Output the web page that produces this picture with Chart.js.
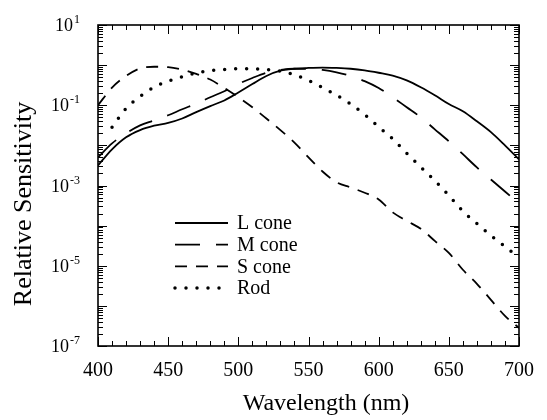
<!DOCTYPE html>
<html>
<head>
<meta charset="utf-8">
<script src="https://cdn.jsdelivr.net/npm/chart.js@4.4.1/dist/chart.umd.min.js"></script>
<style>
  body { margin: 0; background: #fff; }
  #wrap { width: 547px; height: 420px; }
</style>
</head>
<body>
<div id="wrap"><canvas id="chart" width="547" height="420"></canvas></div>
<script>
// wavelength (nm) and log10 of relative sensitivity
let wavelengths = [400, 410, 420, 430, 440, 450, 460, 470, 480, 490,
                   500, 510, 520, 530, 540, 550, 560, 570, 580, 590,
                   600, 610, 620, 630, 640, 650, 660, 670, 680, 690, 700]

let lConeLog = [-2.5, -2.1, -1.8, -1.62, -1.51, -1.44, -1.33, -1.17, -1.02, -0.88,
                -0.68, -0.47, -0.27, -0.14, -0.09, -0.07, -0.06, -0.07, -0.09, -0.13,
                -0.19, -0.26, -0.38, -0.55, -0.75, -0.97, -1.15, -1.4, -1.67, -2.0, -2.35]

let mConeLog = [-2.3, -1.95, -1.7, -1.5, -1.38, -1.25, -1.1, -0.96, -0.8, -0.65,
                -0.47, -0.32, -0.19, -0.12, -0.09, -0.09, -0.12, -0.18, -0.27, -0.4,
                -0.57, -0.8, -1.05, -1.3, -1.6, -1.9, -2.22, -2.55, -2.85, -3.15, -3.45]

let sConeLog = [-1.0, -0.56, -0.27, -0.08, -0.04, -0.05, -0.11, -0.22, -0.36, -0.57,
                -0.8, -1.05, -1.33, -1.62, -1.93, -2.3, -2.65, -2.92, -3.05, -3.18,
                -3.35, -3.67, -3.88, -4.08, -4.38, -4.68, -5.1, -5.45, -5.85, -6.25, -6.55]

let rodLog = [null, -1.55, -1.08, -0.78, -0.55, -0.4, -0.29, -0.2, -0.14, -0.11,
              -0.09, -0.09, -0.11, -0.15, -0.24, -0.38, -0.56, -0.75, -0.97, -1.23,
              -1.54, -1.84, -2.2, -2.54, -2.88, -3.25, -3.64, -3.95, -4.25, -4.52, -4.8]

let seriesLabels = ["L cone", "M cone", "S cone", "Rod"]
let yTickExps = [1, -1, -3, -5, -7]

let serif = "'Liberation Serif', 'Times New Roman', serif"

function toPoints(logs) {
    return wavelengths.map((w, i) => ({ x: w, y: logs[i] === null ? null : Math.pow(10, logs[i]) }))
}

// box, inward ticks, y labels with exponents, titles and legend
const decorations = {
    id: 'decorations',
    afterDraw(chart) {
        let ctx = chart.ctx
        let a = chart.chartArea
        let x = chart.scales.x
        let y = chart.scales.y
        ctx.save()
        ctx.strokeStyle = '#000'
        ctx.fillStyle = '#000'

        ctx.lineWidth = 1.6
        ctx.strokeRect(a.left, a.top, a.right - a.left, a.bottom - a.top)

        ctx.lineWidth = 1
        ctx.beginPath()
        for (let w = 400; w <= 700; w += 10) {
            let px = Math.round(x.getPixelForValue(w)) + 0.5
            let len = w % 50 === 0 ? 9 : 5
            ctx.moveTo(px, a.bottom); ctx.lineTo(px, a.bottom - len)
            ctx.moveTo(px, a.top); ctx.lineTo(px, a.top + len)
        }
        for (let e = -7; e <= 1; e++) {
            for (let m = 1; m <= 9; m++) {
                if (e === 1 && m > 1) break
                let py = Math.round(y.getPixelForValue(m * Math.pow(10, e))) + 0.5
                let len = m === 1 ? 9 : 5
                ctx.moveTo(a.left, py); ctx.lineTo(a.left + len, py)
                ctx.moveTo(a.right, py); ctx.lineTo(a.right - len, py)
            }
        }
        ctx.stroke()

        // y tick labels 10^n
        yTickExps.forEach(e => {
            let py = y.getPixelForValue(Math.pow(10, e))
            let expText = String(e)
            ctx.font = "12px " + serif
            let expW = ctx.measureText(expText).width
            ctx.font = "18px " + serif
            let baseW = ctx.measureText("10").width
            let right = 80
            ctx.textBaseline = 'alphabetic'
            ctx.textAlign = 'left'
            ctx.fillText("10", right - expW - baseW - 1, py + 6)
            ctx.font = "12px " + serif
            ctx.fillText(expText, right - expW, py - 2)
        })

        // axis titles
        ctx.textAlign = 'center'
        ctx.textBaseline = 'middle'
        ctx.font = "24px " + serif
        ctx.fillText("Wavelength (nm)", 326, 404)
        ctx.save()
        ctx.translate(24, 204)
        ctx.rotate(-Math.PI / 2)
        ctx.font = "26px " + serif
        ctx.fillText("Relative Sensitivity", 0, 0)
        ctx.restore()

        // legend
        chart.data.datasets.forEach((ds, i) => {
            let ly = 223 + i * 21.7
            ctx.save()
            ctx.lineWidth = ds.borderWidth
            ctx.lineCap = ds.borderCapStyle || 'butt'
            ctx.setLineDash(ds.borderDash || [])
            ctx.beginPath()
            ctx.moveTo(175, ly)
            ctx.lineTo(228, ly)
            ctx.stroke()
            ctx.restore()
            ctx.font = "20px " + serif
            ctx.textAlign = 'left'
            ctx.textBaseline = 'middle'
            ctx.fillText(ds.label, 237, ly + 1)
        })
        ctx.restore()
    }
}

let ctx = document.getElementById("chart")
let chart = new Chart(ctx, {
    type: 'line',
    data: {
        datasets: [{
            label: seriesLabels[0],
            data: toPoints(lConeLog),
            borderColor: '#000',
            borderWidth: 1.8,
            borderDash: []
        },
        {
            label: seriesLabels[1],
            data: toPoints(mConeLog),
            borderColor: '#000',
            borderWidth: 1.8,
            borderDash: [25, 16]
        },
        {
            label: seriesLabels[2],
            data: toPoints(sConeLog),
            borderColor: '#000',
            borderWidth: 1.8,
            borderDash: [12, 9]
        },
        {
            label: seriesLabels[3],
            data: toPoints(rodLog),
            borderColor: '#000',
            borderWidth: 3.5,
            borderDash: [0, 11],
            borderCapStyle: 'round'
        }]
    },
    options: {
        responsive: false,
        animation: false,
        devicePixelRatio: 1,
        layout: { padding: { top: 25, right: 17, left: 0, bottom: 0 } },
        elements: {
            point: { radius: 0 },
            line: { cubicInterpolationMode: 'monotone', fill: false }
        },
        plugins: {
            legend: { display: false },
            tooltip: { enabled: false }
        },
        scales: {
            x: {
                type: 'linear',
                min: 400,
                max: 700,
                grid: { display: false, drawTicks: false },
                border: { display: false },
                ticks: {
                    stepSize: 50,
                    color: '#000',
                    padding: 13,
                    maxRotation: 0,
                    font: { family: serif, size: 20 }
                },
                afterFit: function (scale) { scale.height = 74 }
            },
            y: {
                type: 'logarithmic',
                min: 1e-7,
                max: 10,
                grid: { display: false, drawTicks: false },
                border: { display: false },
                ticks: { display: false },
                afterFit: function (scale) { scale.width = 98 }
            }
        }
    },
    plugins: [decorations]
})
</script>
</body>
</html>
